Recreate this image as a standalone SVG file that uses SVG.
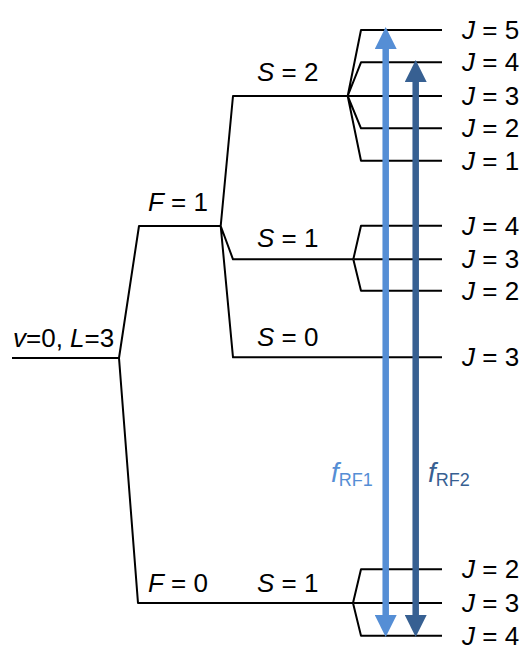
<svg xmlns="http://www.w3.org/2000/svg" width="524" height="651" viewBox="0 0 524 651">
<defs>
<style>
.ln{stroke:#000;stroke-width:2;fill:none;stroke-linejoin:round}
.t{font-family:"Liberation Sans",Arial,sans-serif;font-size:26px;fill:#000}
.i{font-style:italic}
.f{font-size:28px}
.sub{font-size:18px}
</style>
<marker id="hL" markerUnits="userSpaceOnUse" markerWidth="22" markerHeight="22" refX="0" refY="10" viewBox="0 0 20 20" orient="auto-start-reverse"><path d="M0,0 L20,10 L0,20 z" fill="#558ED5"/></marker>
<marker id="hD" markerUnits="userSpaceOnUse" markerWidth="22" markerHeight="22" refX="0" refY="10" viewBox="0 0 20 20" orient="auto-start-reverse"><path d="M0,0 L20,10 L0,20 z" fill="#376092"/></marker>
</defs>
<rect width="524" height="651" fill="#fff"/>
<g id="connectors">
<path class="ln" d="M12,358 H119 M119,358 L139,226 H220.7 M119,358 L138,603 H353"/>
<path class="ln" d="M220.7,226 L233,96 H347.7 M220.7,226 L233,259.3 H353.3 M220.7,226 L233,357.3 H442"/>
<path class="ln" d="M347.7,96 H442 M347.7,96 L361,30 H442 M347.7,96 L361,62.3 H442 M347.7,96 L361,128.3 H442 M347.7,96 L361,160.7 H442"/>
<path class="ln" d="M353.3,259.3 H442 M353.3,259.3 L361,225.7 H442 M353.3,259.3 L361,290.7 H442"/>
<path class="ln" d="M353,603 H442 M353,603 L361,569.3 H442 M353,603 L361,635.7 H442"/>
</g>
<g id="root"><text class="t" x="13" y="347"><tspan class="i">v</tspan>=0, <tspan class="i">L</tspan>=3</text></g>
<g id="F1"><text class="t" x="148" y="211"><tspan class="i">F</tspan> = 1</text></g>
<g id="F0"><text class="t" x="148" y="592"><tspan class="i">F</tspan> = 0</text></g>
<g id="S2"><text class="t" x="257" y="81"><tspan class="i">S</tspan> = 2</text></g>
<g id="S1a"><text class="t" x="257" y="247"><tspan class="i">S</tspan> = 1</text></g>
<g id="S0"><text class="t" x="257" y="346"><tspan class="i">S</tspan> = 0</text></g>
<g id="S1b"><text class="t" x="257" y="592"><tspan class="i">S</tspan> = 1</text></g>
<g id="Jlabels">
<text class="t" x="462" y="39"><tspan class="i">J</tspan> = 5</text>
<text class="t" x="462" y="71"><tspan class="i">J</tspan> = 4</text>
<text class="t" x="462" y="105"><tspan class="i">J</tspan> = 3</text>
<text class="t" x="462" y="137"><tspan class="i">J</tspan> = 2</text>
<text class="t" x="462" y="170"><tspan class="i">J</tspan> = 1</text>
<text class="t" x="462" y="235"><tspan class="i">J</tspan> = 4</text>
<text class="t" x="462" y="268"><tspan class="i">J</tspan> = 3</text>
<text class="t" x="462" y="300"><tspan class="i">J</tspan> = 2</text>
<text class="t" x="462" y="366"><tspan class="i">J</tspan> = 3</text>
<text class="t" x="462" y="578"><tspan class="i">J</tspan> = 2</text>
<text class="t" x="462" y="612"><tspan class="i">J</tspan> = 3</text>
<text class="t" x="462" y="645"><tspan class="i">J</tspan> = 4</text>
</g>
<g id="arrows">
<line x1="385.7" y1="49" x2="385.7" y2="615" stroke="#558ED5" stroke-width="6.5" marker-start="url(#hL)" marker-end="url(#hL)"/>
<line x1="415.7" y1="82" x2="415.7" y2="615" stroke="#376092" stroke-width="6.5" marker-start="url(#hD)" marker-end="url(#hD)"/>
</g>
<g id="fRF1"><text class="t" x="331" y="482" style="fill:#558ED5"><tspan class="i f">f</tspan><tspan class="sub" dy="4">RF1</tspan></text></g>
<g id="fRF2"><text class="t" x="428" y="482" style="fill:#376092"><tspan class="i f">f</tspan><tspan class="sub" dy="4">RF2</tspan></text></g>
</svg>
